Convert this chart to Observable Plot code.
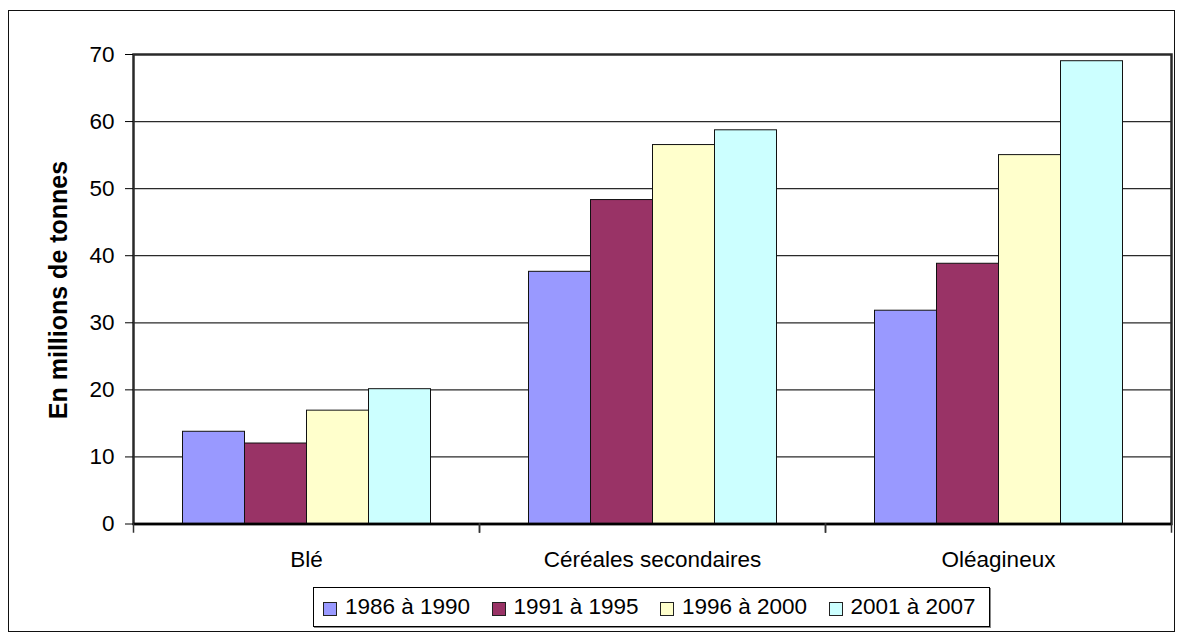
<!DOCTYPE html>
<html>
<head>
<meta charset="utf-8">
<script src="https://cdn.jsdelivr.net/npm/d3@7"></script>
<script src="https://cdn.jsdelivr.net/npm/@observablehq/plot@0.6"></script>
<style>
  html, body { margin: 0; padding: 0; background: #fff; }
  #wrap { position: relative; width: 1179px; height: 636px; font-family: "Liberation Sans", Arial, sans-serif; color: #000; }
  #border { position: absolute; left: 8px; top: 10px; width: 1167px; height: 622px; border: 1px solid #111; box-sizing: border-box; }
  #chart { position: absolute; left: 0; top: 0; }
  #legend { position: absolute; left: 313px; top: 587px; width: 677px; height: 40px; box-sizing: border-box;
            border: 1px solid #000; box-shadow: 1px 1px 0 #888; display: flex; align-items: center; padding-left: 9px;
            font-size: 22.5px; white-space: nowrap; }
  .item { display: flex; align-items: center; width: 168.5px; flex: none; }
  .sw { width: 14px; height: 14px; box-sizing: border-box; border: 1px solid #222; margin-right: 8px; margin-top: 3px; flex: none; }
</style>
</head>
<body>
<div id="wrap">
  <div id="border"></div>
  <div id="chart"></div>
  <div id="legend"></div>
</div>
<script>
const categories = ["Blé", "Céréales secondaires", "Oléagineux"];
const series = ["1986 à 1990", "1991 à 1995", "1996 à 2000", "2001 à 2007"];
const colors = ["#9999FF", "#993366", "#FFFFCC", "#CCFFFF"];
const ble = [13.75, 12.0, 16.9, 20.1];
const cereales = [37.6, 48.3, 56.5, 58.7];
const oleagineux = [31.8, 38.8, 55.0, 69.0];
const yTicks = [0, 10, 20, 30, 40, 50, 60, 70];
const yTitle = "En millions de tonnes";

const values = [ble, cereales, oleagineux];
const data = categories.flatMap((c, i) => series.map((s, j) => ({category: c, series: s, value: values[i][j]})));

const W = 1179, H = 580, mt = 54, mb = 56.5, ml = 132.5, mr = 7.3;
const innerH = H - mt - mb;

const chart = Plot.plot({
  width: W, height: H,
  marginTop: mt, marginBottom: mb, marginLeft: ml, marginRight: mr,
  style: {fontFamily: "'Liberation Sans', Arial, sans-serif", fontSize: "22.5px", color: "#000", background: "transparent", overflow: "visible"},
  fx: {domain: categories, padding: 0, label: null},
  x: {domain: series, paddingInner: 0, paddingOuter: 0.75, axis: null},
  y: {domain: [0, 70], label: null},
  color: {domain: series, range: colors},
  marks: [
    Plot.ruleY(yTicks.filter(d => d > 0 && d < 70), {stroke: "#2a2a2a", strokeWidth: 1.2}),
    Plot.barY(data, {fx: "category", x: "series", y: "value", fill: "series", stroke: "#111", strokeWidth: 1}),
    Plot.frame({facet: "super", stroke: "#2a2a2a", strokeWidth: 2.5}),
    Plot.ruleY([0], {stroke: "#000", strokeWidth: 2.5}),
    Plot.frame({anchor: "left", insetTop: innerH, insetBottom: -8, stroke: "#333", strokeWidth: 1.5}),
    Plot.frame({anchor: "right", insetTop: innerH, insetBottom: -8, stroke: "#333", strokeWidth: 1.5}),
    Plot.axisY({ticks: yTicks, tickSize: 8, tickPadding: 11, tickFormat: d => String(d), label: null}),
    Plot.axisFx({anchor: "bottom", tickSize: 0, tickPadding: 27.5, label: null})
  ]
});

document.getElementById("chart").appendChild(chart);

d3.select(chart).append("text")
  .attr("transform", "translate(67,290) rotate(-90)")
  .attr("text-anchor", "middle")
  .attr("font-weight", "bold")
  .attr("font-size", "25px")
  .attr("fill", "#000")
  .text(yTitle);

const legend = d3.select("#legend");
series.forEach((s, i) => {
  const it = legend.append("div").attr("class", "item");
  it.append("div").attr("class", "sw").style("background", colors[i]);
  it.append("span").text(s);
});
</script>
</body>
</html>
